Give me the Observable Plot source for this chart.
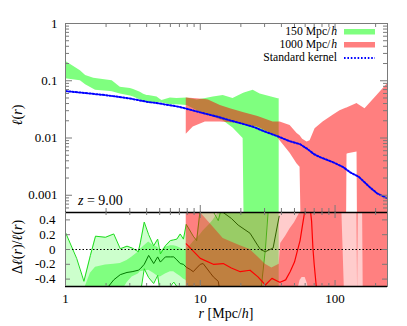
<!DOCTYPE html>
<html><head><meta charset="utf-8">
<script src="https://cdn.jsdelivr.net/npm/d3@7"></script>
<script src="https://cdn.jsdelivr.net/npm/@observablehq/plot@0.6"></script>
<style>
body{margin:0;background:#fff;}
#chart{position:relative;width:407px;height:326px;overflow:hidden;background:#fff;}
#chart svg{position:absolute;left:0;}
</style></head><body><div id="chart"></div>
<script>
// ---------- axis settings ----------
const xDomain = [1, 245];
const xMajorTicks = [1, 10, 100];
const xTickLabels = ["1", "10", "100"];
const xMinorTicks = [2,3,4,5,6,7,8,9,20,30,40,50,60,70,80,90,200];
const yTopDomain = [5e-4, 1];
const yTopTicks = [0.001, 0.01, 0.1, 1];
const yTopLabels = ["0.001", "0.01", "0.1", "1"];
const yTopMinor = [5e-4,6e-4,7e-4,8e-4,9e-4,2e-3,3e-3,4e-3,5e-3,6e-3,7e-3,8e-3,9e-3,0.02,0.03,0.04,0.05,0.06,0.07,0.08,0.09,0.2,0.3,0.4,0.5,0.6,0.7,0.8,0.9];
const yBotDomain = [-0.5, 0.5];
const yBotTicks = [-0.4, -0.2, 0, 0.2, 0.4];
const yBotLabels = ["-0.4", "-0.2", "0", "0.2", "0.4"];

// ---------- top panel: standard kernel ----------
const stdR = [1, 1.5, 2, 3, 4, 5, 7, 10, 13, 17, 21, 25, 30, 38, 46, 55, 62, 70, 78, 96, 115, 130, 150, 180, 205, 243];
const stdL = [0.066, 0.060, 0.056, 0.049, 0.043, 0.040, 0.035, 0.028, 0.024, 0.020, 0.0175, 0.0155, 0.013, 0.0106, 0.0088, 0.0078, 0.0065, 0.0052, 0.0046, 0.0038, 0.0031, 0.0025, 0.0021, 0.0014, 0.00108, 0.00089];

// ---------- top panel: 150 Mpc/h band ----------
const gTopR  = [1, 1.29, 1.41, 1.62, 1.67, 2.15, 2.22, 2.55, 3.03, 3.2, 3.59, 3.8, 4.03, 4.14, 4.78, 5.06, 5.2, 6.0, 6.7, 7.97, 9.5, 11, 12.5, 14.8, 17.5, 20.8, 21.5, 24.7, 27.8, 37.8, 38.5];
const gTopHi = [0.22, 0.15, 0.124, 0.111, 0.109, 0.101, 0.10, 0.077, 0.073, 0.070, 0.063, 0.058, 0.055, 0.055, 0.052, 0.047, 0.045, 0.050, 0.049, 0.050, 0.046, 0.049, 0.052, 0.055, 0.049, 0.060, 0.062, 0.068, 0.059, 0.0485, 0.0485];
const gTopLo = [0.108, 0.100, 0.085, 0.071, 0.068, 0.065, 0.064, 0.059, 0.054, 0.052, 0.046, 0.042, 0.041, 0.040, 0.041, 0.042, 0.041, 0.038, 0.038, 0.037, 0.030, 0.025, 0.023, 0.020, 0.015, 0.0098, 1e-5, 1e-5, 1e-5, 1e-5, 1e-5];

// ---------- top panel: 1000 Mpc/h band ----------
const rTopR  = [7.87, 8.87, 10.9, 11.5, 14.1, 16.7, 18.8, 20.8, 26.4, 27.8, 34.7, 37.2, 39.1, 46.4, 52.3, 55, 57.5, 62, 65.3, 71.1, 81.5, 96.7, 108.9, 120.6, 122.7, 124.8, 145.6, 148, 166.8, 204.8, 245];
const rTopHi = [0.050, 0.049, 0.047, 0.046, 0.037, 0.0325, 0.030, 0.028, 0.024, 0.023, 0.019, 0.019, 0.019, 0.0165, 0.012, 0.011, 0.0095, 0.0085, 0.009, 0.0145, 0.019, 0.025, 0.030, 0.033, 0.0335, 0.034, 0.040, 0.039, 0.0325, 0.055, 0.089];
const rTopLo = [0.0116, 0.0155, 0.019, 0.019, 0.019, 0.0185, 0.0182, 0.017, 0.0155, 0.0148, 0.0115, 0.0104, 0.009, 0.0054, 0.0035, 0.0031, 1e-5, 1e-5, 1e-5, 1e-5, 1e-5, 1e-5, 1e-5, 1e-5, 0.0052, 0.0053, 0.0057, 1e-5, 1e-5, 1e-5, 1e-5];

// ---------- bottom panel: 150 Mpc/h ----------
const gR   = [1, 1.21, 1.37, 1.53, 1.67, 1.98, 2.28, 2.55, 2.86, 3.12, 3.47, 3.59, 3.84, 4.14, 4.51, 4.83, 5.06, 5.51, 6.0, 6.35, 6.7, 7.1, 7.5, 7.87, 8.42, 8.87, 9.4, 10.0, 10.5, 11.9, 12.5, 13.6, 14.1, 14.4, 14.8, 17, 19.1, 23.4, 26.8, 28, 30.4, 32, 34.7, 38.5];
const g2Hi = [0.23, -0.12, -0.43, -0.08, 0.18, 0.165, 0.21, 0.01, 0.045, 0.02, -0.03, 0.09, 0.37, 0.2, 0.05, 0.14, -0.06, 0.05, 0.12, 0.13, 0.14, 0.21, 0.14, 0.34, 0.25, 0.18, 0.12, 0.55, 0.6, 0.6, 0.51, 0.39, 0.5, 0.55, 0.6, 0.7, 0.7, 0.7, 0.7, 0.7, 0.7, 0.7, 0.7, 0.7];
const g2Lo = [-0.8, -0.8, -0.8, -0.8, -0.8, -0.8, -0.8, -0.8, -0.8, -0.8, -0.8, -0.6, -0.26, -0.38, -0.46, -0.35, -0.6, -0.55, -0.5, -0.44, -0.5, -0.6, -0.7, -0.8, -0.8, -0.8, -0.8, -0.8, -0.8, -0.8, -0.8, -0.8, -0.8, -0.8, -0.8, -0.8, -0.8, -0.8, -0.7, -0.6, 0.0, 0.55, 0.7, 0.7];
const g1Hi = [-0.6, -0.6, -0.55, -0.32, -0.24, -0.21, -0.2, -0.19, -0.15, -0.1, -0.035, 0.0, 0.05, 0.1, 0.05, 0.03, -0.02, 0.03, 0.05, 0.05, 0.04, 0.02, 0.0, 0.0, 0.05, 0.1, 0.15, 0.2, 0.25, 0.35, 0.4, 0.5, 0.55, 0.6, 0.7, 0.7, 0.7, 0.7, 0.7, 0.7, 0.7, 0.7, 0.7, 0.7];
const g1Lo = [-0.7, -0.7, -0.7, -0.7, -0.7, -0.7, -0.7, -0.6, -0.45, -0.37, -0.33, -0.3, -0.29, -0.28, -0.32, -0.36, -0.37, -0.33, -0.3, -0.3, -0.33, -0.36, -0.4, -0.42, -0.7, -0.7, -0.7, -0.7, -0.7, -0.7, -0.7, -0.7, -0.7, -0.7, -0.7, -0.7, -0.7, -0.7, -0.7, -0.7, -0.7, -0.7, -0.7, -0.7];
const gMean = [-0.9, -0.85, -0.8, -0.75, -0.7, -0.55, -0.41, -0.34, -0.31, -0.3, -0.28, -0.26, -0.2, -0.08, -0.19, -0.1, -0.17, -0.1, -0.1, -0.1, -0.14, -0.19, -0.2, -0.24, -0.27, -0.3, -0.25, -0.2, -0.19, -0.32, -0.37, -0.43, -0.6, NaN, 0.5, 0.42, 0.33, 0.22, 0.05, 0.0, -0.03, -0.01, 0.02, 0.45];

// ---------- bottom panel: 1000 Mpc/h ----------
const rR   = [7.87, 10, 12.5, 14.8, 17, 19.8, 23.4, 26.8, 30.4, 34, 38.5, 39.5, 43, 46.4, 50, 52, 55, 57, 60, 62, 65, 67, 68.5, 70, 73, 80, 96.7, 112, 118, 144, 145, 147, 149, 160, 162, 200, 245];
const r2Hi = rR.map(() => 0.8);
const r2Lo = rR.map(() => -0.8);
const r1Hi = [0.55, 0.5, 0.3, 0.15, 0.1, 0.05, 0.0, -0.1, -0.2, -0.25, -0.2, 0.08, 0.18, 0.28, 0.36, 0.42, 0.5, 0.55, 0.6, 0.6, 0.6, 0.6, 0.6, 0.6, 0.6, 0.6, 0.6, 0.6, -0.7, -0.7, 0.6, 0.6, 0.6, 0.6, 0.6, 0.6, 0.6];
const r1Lo = [-0.7, -0.7, -0.7, -0.7, -0.7, -0.7, -0.7, -0.7, -0.7, -0.7, -0.7, -0.7, -0.7, -0.7, -0.7, -0.6, -0.42, -0.38, -0.38, -0.45, -0.6, -0.7, -0.7, -0.7, -0.7, -0.7, -0.7, -0.7, -0.7, -0.7, 0.6, -0.6, 0.6, 0.6, -0.7, -0.7, -0.7];
const rMean = [0.076, -0.12, -0.2, -0.19, -0.25, -0.3, -0.28, -0.37, -0.48, -0.39, -0.44, -0.44, -0.41, -0.3, -0.17, -0.05, 0.12, 0.3, 0.55, 0.6, 0.6, 0.38, 0.02, -0.2, -0.55, -0.8, -0.8, -0.8, -0.8, -0.8, -0.8, -0.8, -0.8, -0.8, -0.8, -0.8, -0.8];

// ---------- legend ----------
const legendText = ["150 Mpc/", "1000 Mpc/", "Standard kernel"];
const legendItalic = ["h", "h", ""];
const legendKind = ["green", "red", "std"];

// ---------- tables ----------
const stdData = stdR.map((r, i) => ({r, l: stdL[i]}));
const greenTop = gTopR.map((r, i) => ({r, lo: gTopLo[i], hi: gTopHi[i]}));
const redTop = rTopR.map((r, i) => ({r, lo: rTopLo[i], hi: rTopHi[i]}));
const greenBot = gR.map((r, i) => ({r, hi2: g2Hi[i], lo2: g2Lo[i], hi1: g1Hi[i], lo1: g1Lo[i], m: gMean[i]}));
const redBot = rR.map((r, i) => ({r, hi2: r2Hi[i], lo2: r2Lo[i], hi1: r1Hi[i], lo1: r1Lo[i], m: rMean[i]}));

const GREEN = "rgb(0,255,0)", RED = "rgb(255,0,0)";
const A_LIGHT = 0.2, A_MID = 0.3725;
const FONT = "Liberation Serif";
const TICK = "#7a7a7a";
const STD_DASH = "1.6,1.8";

const W = 407, ML = 65, MR = 20;
const topH = 212, topMT = 23, topFH = topH - topMT;
const botMT = 2, botFH = 74, botMB = 40, botH = botMT + botFH + botMB;
const FW = W - ML - MR;

const topPlot = Plot.plot({
  width: W, height: topH,
  marginTop: topMT, marginBottom: 0, marginLeft: ML, marginRight: MR,
  style: {fontFamily: FONT, fontSize: "13px", background: "none", color: "#000"},
  x: {type: "log", domain: xDomain, axis: null},
  y: {type: "log", domain: yTopDomain},
  marks: [
    Plot.areaY(greenTop, {x: "r", y1: "lo", y2: "hi", fill: GREEN, fillOpacity: 0.5, clip: true}),
    Plot.areaY(redTop, {x: "r", y1: "lo", y2: "hi", fill: RED, fillOpacity: 0.5, clip: true}),
    Plot.line(stdData, {x: "r", y: "l", stroke: "#0000ff", strokeWidth: 2, strokeDasharray: STD_DASH, clip: true}),
    Plot.frame({stroke: TICK}),
    Plot.ruleX(xMajorTicks, {stroke: TICK, insetTop: topFH - 7}),
    Plot.ruleX(xMajorTicks, {stroke: TICK, insetBottom: topFH - 7}),
    Plot.ruleX(xMinorTicks, {stroke: TICK, insetTop: topFH - 4}),
    Plot.ruleX(xMinorTicks, {stroke: TICK, insetBottom: topFH - 4}),
    Plot.ruleY(yTopTicks, {stroke: TICK, insetRight: FW - 7}),
    Plot.ruleY(yTopTicks, {stroke: TICK, insetLeft: FW - 7}),
    Plot.ruleY(yTopMinor, {stroke: TICK, insetRight: FW - 4}),
    Plot.ruleY(yTopMinor, {stroke: TICK, insetLeft: FW - 4}),
    Plot.axisY({ticks: yTopTicks, tickFormat: d => yTopLabels[yTopTicks.indexOf(d)], tickSize: 0, tickPadding: 8, label: null})
  ]
});

const botPlot = Plot.plot({
  width: W, height: botH,
  marginTop: botMT, marginBottom: botMB, marginLeft: ML, marginRight: MR,
  style: {fontFamily: FONT, fontSize: "13px", background: "none", color: "#000"},
  x: {type: "log", domain: xDomain},
  y: {domain: yBotDomain},
  marks: [
    Plot.areaY(greenBot, {x: "r", y1: "lo2", y2: "hi2", fill: GREEN, fillOpacity: A_LIGHT, clip: true}),
    Plot.areaY(greenBot, {x: "r", y1: "lo1", y2: "hi1", fill: GREEN, fillOpacity: A_MID, clip: true}),
    Plot.line(greenBot, {x: "r", y: "hi2", stroke: "rgb(30,220,30)", strokeWidth: 1, clip: true}),
    Plot.line(greenBot, {x: "r", y: "lo2", stroke: "rgb(30,220,30)", strokeWidth: 1, clip: true}),
    Plot.line(greenBot, {x: "r", y: "m", stroke: "rgb(0,120,0)", strokeWidth: 1, clip: true}),
    Plot.areaY(redBot, {x: "r", y1: "lo2", y2: "hi2", fill: RED, fillOpacity: A_LIGHT, clip: true}),
    Plot.areaY(redBot, {x: "r", y1: "lo1", y2: "hi1", fill: RED, fillOpacity: A_MID, clip: true}),
    Plot.line(redBot, {x: "r", y: "m", stroke: "rgb(255,0,0)", strokeWidth: 1.2, clip: true}),
    Plot.ruleY([0], {stroke: "#000", strokeWidth: 1, strokeDasharray: "1.5,2"}),
    Plot.frame({stroke: TICK}),
    Plot.ruleY(yBotDomain, {stroke: "#000", strokeWidth: 1.4}),
    Plot.ruleX(xMajorTicks, {stroke: TICK, insetTop: botFH - 6}),
    Plot.ruleX(xMajorTicks, {stroke: TICK, insetBottom: botFH - 6}),
    Plot.ruleX(xMinorTicks, {stroke: TICK, insetTop: botFH - 3}),
    Plot.ruleX(xMinorTicks, {stroke: TICK, insetBottom: botFH - 3}),
    Plot.ruleY(yBotTicks, {stroke: TICK, insetRight: FW - 5}),
    Plot.ruleY(yBotTicks, {stroke: TICK, insetLeft: FW - 5}),
    Plot.axisY({ticks: yBotTicks, tickFormat: d => yBotLabels[yBotTicks.indexOf(d)], tickSize: 0, tickPadding: 10, label: null}),
    Plot.axisX({ticks: xMajorTicks, tickFormat: d => xTickLabels[xMajorTicks.indexOf(d)], tickSize: 0, tickPadding: 7, label: null})
  ]
});

const chart = document.getElementById("chart");
topPlot.style.top = "0px";
botPlot.style.top = (topH - botMT) + "px";
chart.appendChild(topPlot);
chart.appendChild(botPlot);

// ---------- annotations (text) ----------
const ts = d3.select(topPlot);
const bs = d3.select(botPlot);

function rich(sel, parts) {
  parts.forEach(([t, it]) => {
    const s = sel.append("tspan").text(t);
    if (it) s.attr("font-style", "italic");
  });
}
function label(svg, x, y, anchor, size, parts, rotate) {
  const t = svg.append("text")
    .attr("font-family", FONT).attr("font-size", size).attr("text-anchor", anchor).attr("fill", "#000");
  if (rotate) t.attr("transform", `translate(${x},${y}) rotate(-90)`);
  else t.attr("x", x).attr("y", y);
  rich(t, parts);
  return t;
}

// y label top
label(ts, 22, 115, "middle", 14, [["ℓ", true], ["(", false], ["r", true], [")", false]], true);
// z label
label(ts, 78, 205, "start", 14, [["z", true], [" = 9.00", false]]);

// legend (rows 13px apart, right-aligned at x = 337)
legendText.forEach((txt, i) => {
  const y = 34.5 + i * 13;
  const LX = 337, LS = 11.7;
  let endX = LX;
  if (legendItalic[i]) {
    const h = ts.append("text").attr("x", LX).attr("y", y).attr("text-anchor", "end")
      .attr("font-family", FONT).attr("font-size", LS).attr("font-style", "italic").attr("fill", "#000")
      .text(legendItalic[i]);
    endX = LX - h.node().getComputedTextLength() - 0.8;
  }
  ts.append("text").attr("x", endX).attr("y", y).attr("text-anchor", "end")
    .attr("font-family", FONT).attr("font-size", LS).attr("fill", "#000").text(txt);
  if (legendKind[i] === "std") {
    ts.append("line").attr("x1", 344).attr("x2", 375).attr("y1", y - 2.5).attr("y2", y - 2.5)
      .attr("stroke", "#0000ff").attr("stroke-width", 2).attr("stroke-dasharray", STD_DASH);
  } else {
    ts.append("rect").attr("x", 344).attr("y", y - 5.5).attr("width", 31).attr("height", 5.5)
      .attr("fill", legendKind[i] === "green" ? GREEN : RED).attr("fill-opacity", 0.5);
  }
});

// y label bottom
label(bs, 22, 37, "middle", 14, [["Δ", false], ["ℓ", true], ["(", false], ["r", true], [")/", false], ["ℓ", true], ["(", false], ["r", true], [")", false]], true);
// x label
label(bs, 226, 108, "middle", 14, [["r", true], [" [Mpc/", false], ["h", true], ["]", false]]);
</script></body></html>
